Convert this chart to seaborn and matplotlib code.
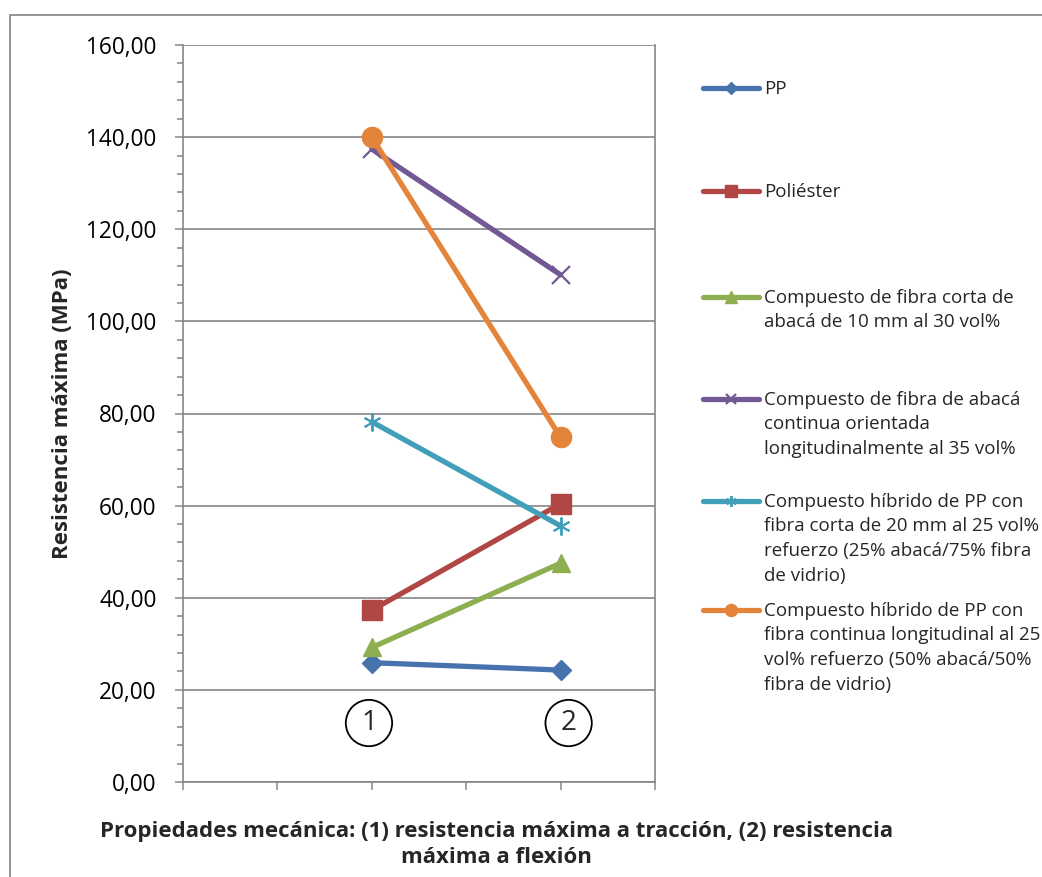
import numpy as np
import pandas as pd
import seaborn as sns
import matplotlib
matplotlib.use("Agg")
import matplotlib.pyplot as plt
from matplotlib.patches import Rectangle
from matplotlib.ticker import MultipleLocator, FuncFormatter

# ---- data -------------------------------------------------------------
properties = [2, 4]                      # category positions: (1) traccion, (2) flexion
property_marks = ["1", "2"]

series_names = [
    "PP",
    "Poliéster",
    "Compuesto de fibra corta de\nabacá de 10 mm al 30 vol%",
    "Compuesto de fibra de abacá\ncontinua orientada\nlongitudinalmente al 35 vol%",
    "Compuesto híbrido de PP con\nfibra corta de 20 mm al 25 vol%\nrefuerzo (25% abacá/75% fibra\nde vidrio)",
    "Compuesto híbrido de PP con\nfibra continua longitudinal al 25\nvol% refuerzo (50% abacá/50%\nfibra de vidrio)",
]
pp_vals = [25.9, 24.3]
poliester_vals = [37.3, 60.4]
corta_vals = [29.2, 47.5]
continua_vals = [137.4, 110.1]
hibrido_corta_vals = [78.2, 55.6]
hibrido_continua_vals = [140.0, 74.8]

all_vals = [pp_vals, poliester_vals, corta_vals, continua_vals,
            hibrido_corta_vals, hibrido_continua_vals]

# ---- styling ----------------------------------------------------------
colors = ["#4672AE", "#B04744", "#8DAF50", "#725895", "#429FBA", "#E4843A"]
markers = ["D", "s", "^", "x", (6, 2, 0), "o"]
msizes = [9.8, 14.0, 13.5, 12.5, 13.0, 14.5]
mews = [1, 1, 1, 1.6, 1.4, 1]
FONT = ["Open Sans", "DejaVu Sans"]

sns.set_theme(style="white")
plt.rcParams["font.family"] = FONT

W, H = 1042, 877
fig = plt.figure(figsize=(W / 100, H / 100), dpi=100)
ax = fig.add_axes([183 / W, 1 - 782 / H, (655 - 183) / W, (782 - 45) / H])

grey = "#868686"

for name, vals, c, m, ms, mew in zip(series_names, all_vals, colors, markers, msizes, mews):
    df = pd.DataFrame({"x": properties, "y": vals})
    sns.lineplot(data=df, x="x", y="y", ax=ax, color=c, lw=3.8,
                 marker=m, markersize=ms, markeredgewidth=mew,
                 markeredgecolor=c, markerfacecolor=c, label=name)

if ax.get_legend() is not None:
    ax.get_legend().remove()

# axes
ax.set_xlim(0, 5)
ax.set_ylim(0, 160)
ax.set_xticks(np.arange(0, 6))
ax.set_xticklabels([])
ax.yaxis.set_major_locator(MultipleLocator(20))
ax.yaxis.set_minor_locator(MultipleLocator(4))
ax.yaxis.set_major_formatter(FuncFormatter(lambda v, p: f"{v:.2f}".replace(".", ",")))
ax.tick_params(axis="y", which="major", length=6, width=1.1, color=grey,
               direction="out", pad=13, labelsize=16.3, labelcolor="black", left=True)
ax.tick_params(axis="y", which="minor", length=4.5, width=1.1, color=grey,
               direction="out", left=True)
ax.tick_params(axis="x", which="major", length=6, width=1.1, color=grey,
               direction="out", bottom=True)
ax.grid(axis="y", which="major", color=grey, lw=1.2)
ax.grid(axis="x", visible=False)
ax.set_axisbelow(True)
for s in ax.spines.values():
    s.set_visible(True)
    s.set_color(grey)
    s.set_linewidth(1.2)
ax.spines["top"].set_visible(False)

ax.set_ylabel("Resistencia máxima (MPa)", fontsize=16, fontweight="bold")
ax.yaxis.set_label_coords(-0.232, 0.5)
ax.set_xlabel("Propiedades mecánica: (1) resistencia máxima a tracción, (2) resistencia\n"
              "máxima a flexión", fontsize=16, fontweight="bold", linespacing=1.3)
ax.xaxis.set_label_coords(0.665, -0.053)

# circled property numbers
circle_dx = [-0.03, 0.085]
for xp, dx, lab in zip(properties, circle_dx, property_marks):
    ax.text(xp + dx, 12.8, lab, ha="center", va="center", fontsize=20,
            bbox=dict(boxstyle="circle,pad=0.33", fc="white", ec="black", lw=1.3))

# legend: one slot per series, text to the right of the handle
handles, labels = ax.get_legend_handles_labels()
slot_centers = [87, 190, 296, 398, 500, 609]
leg_fs = 13.5
for h, l, yc in zip(handles, labels, slot_centers):
    top = yc - 0.6 * leg_fs * 100 / 72 + 4
    leg = fig.legend([h], [l], loc="upper left",
                     bbox_to_anchor=(703 / W, 1 - top / H),
                     frameon=False, fontsize=leg_fs, borderpad=0, borderaxespad=0,
                     handlelength=3.0, handleheight=1.2, handletextpad=0.25,
                     markerscale=0.6)
    for t in leg.get_texts():
        t.set_linespacing(1.48)
    for col in leg._legend_handle_box.get_children():
        for row in col.get_children():
            row.align = "top"

# chart-area border
fig.patches.append(Rectangle((10 / W, -0.2), 1.5, 1 - 15 / H + 0.2,
                             transform=fig.transFigure, fill=False,
                             ec="#8c8c8c", lw=1.3, clip_on=False))

fig.savefig("out.png", dpi=100)
